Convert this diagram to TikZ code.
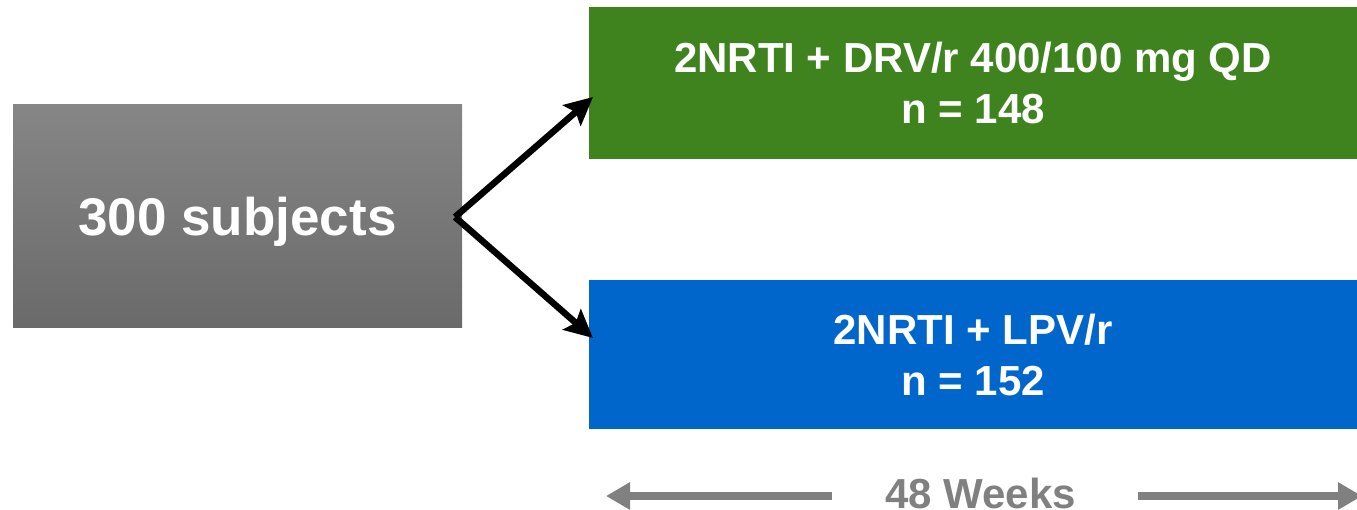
\documentclass[tikz,border=0pt]{standalone}
\usepackage{fontspec}
\setmainfont{Liberation Sans}
\usetikzlibrary{arrows.meta}
\definecolor{armgreen}{HTML}{3F831F}
\definecolor{armblue}{HTML}{0066CC}
\definecolor{boxtop}{HTML}{868686}
\definecolor{boxbot}{HTML}{6A6A6A}
\definecolor{weekgray}{HTML}{808080}
\tikzset{
  armbox/.style={inner sep=0pt, minimum width=768pt, minimum height=150pt, align=center,
    text=white, font=\bfseries\fontsize{42}{51}\selectfont},
  splitarrow/.style={line width=6.5pt, -{Stealth[length=28pt,width=27pt,inset=5pt]}},
  weekarrow/.style={draw=weekgray, line width=8pt, -{Triangle[length=24pt,width=26pt]}, weekgray},
}
\begin{document}
\begin{tikzpicture}[x=1pt,y=-1pt]
\useasboundingbox (0,0) rectangle (1357,509);
\clip (0,0) rectangle (1357,509);
\node[inner sep=0pt, minimum width=449pt, minimum height=223pt, top color=boxtop, bottom color=boxbot,
  text height=40pt, text depth=0pt,
  text=white, font=\bfseries\fontsize{53}{60}\selectfont] (subj) at (237.5,215.5) {300 subjects};
\node[armbox, fill=armgreen, minimum height=152pt] (drv) at (973,83) {2NRTI + DRV/r 400/100 mg QD\\n = 148};
\node[armbox, fill=armblue, minimum height=149pt] (lpv) at (973,354.5) {2NRTI + LPV/r\\n = 152};
\coordinate (split) at (455,217);
\coordinate (tipA) at (593,97);
\coordinate (tipB) at (593,338);
\draw[splitarrow] (split) -- (tipA);
\draw[splitarrow] (split) -- (tipB);
\node[anchor=base, inner sep=0pt, text=weekgray, font=\bfseries\fontsize{42}{51}\selectfont] (weeks) at (980.5,508) {48 Weeks};
\coordinate (lstart) at (832,496);
\coordinate (lend) at (606,496);
\coordinate (rstart) at (1138,496);
\coordinate (rend) at (1362,496);
\draw[weekarrow] (lstart) -- (lend);
\draw[weekarrow] (rstart) -- (rend);
\end{tikzpicture}
\end{document}
